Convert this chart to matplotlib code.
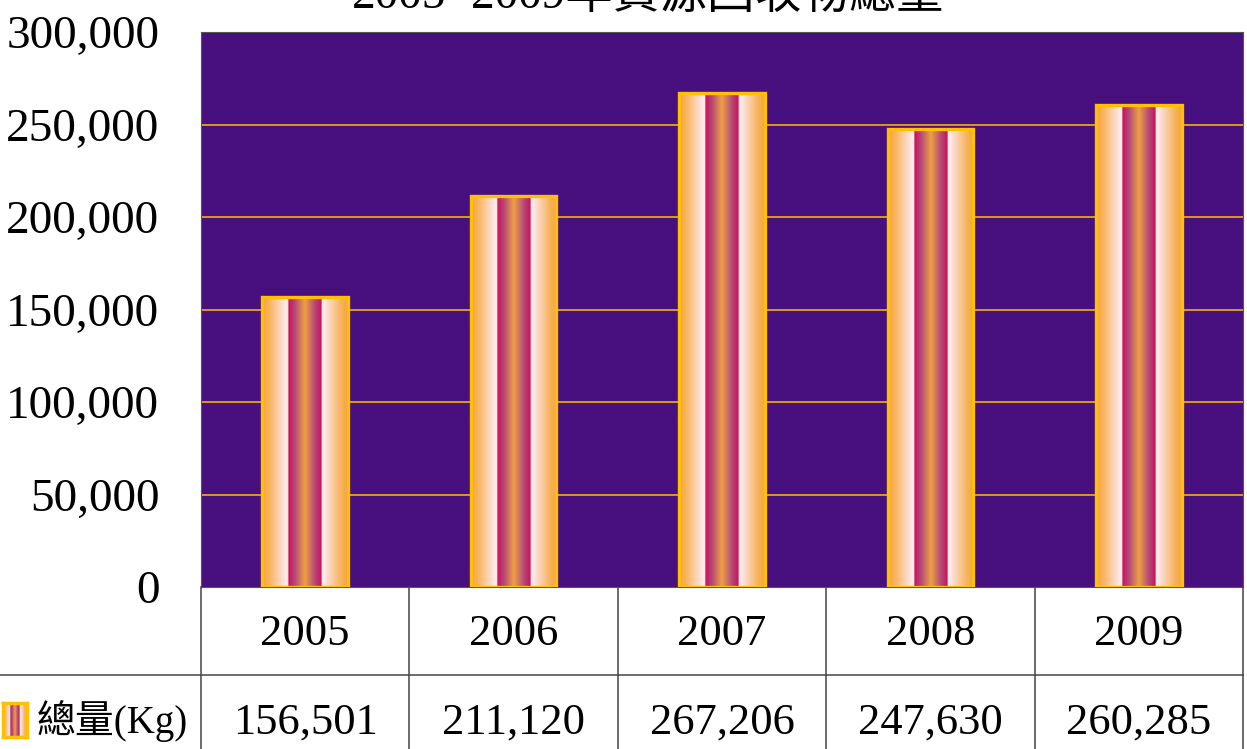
import numpy as np
from matplotlib import pyplot as plt
from matplotlib.colors import LinearSegmentedColormap

plt.rcParams['font.family'] = ['Liberation Serif', 'Noto Sans CJK TC', 'DejaVu Sans']

# data
years = ['2005', '2006', '2007', '2008', '2009']
totals = [156501, 211120, 267206, 247630, 260285]
series_name = '總量(Kg)'
title = '2005~2009年資源回收物總量'
yticks = [0, 50000, 100000, 150000, 200000, 250000, 300000]

W, H = 1247, 749
fig = plt.figure(figsize=(W / 100, H / 100), dpi=100)

# plot area in pixels
left, right, top, bottom = 201, 1243, 32, 587
ax = fig.add_axes([left / W, 1 - bottom / H, (right - left) / W, (bottom - top) / H])
ax.set_facecolor('#47107e')

# bar gradient (horizontal)
bar_cmap = LinearSegmentedColormap.from_list('bar', [
    (0.00, '#f6a53c'), (0.08, '#f8b35c'), (0.24, '#fddcd2'), (0.30, '#fff4f4'),
    (0.31, '#cc1458'), (0.38, '#b4467a'), (0.50, '#eea044'), (0.62, '#b4467a'),
    (0.69, '#cc1458'), (0.70, '#fff4f4'), (0.76, '#fddcd2'), (0.92, '#f8b35c'),
    (1.00, '#f6a53c')])
grad = np.linspace(0, 1, 256).reshape(1, -1)

x = np.arange(len(years))
bars = ax.bar(x, totals, width=0.41, color='none', edgecolor='#ffc000', linewidth=2.4, zorder=4)
for b in bars:
    im = ax.imshow(grad, cmap=bar_cmap, aspect='auto', interpolation='bilinear',
                   extent=[b.get_x(), b.get_x() + b.get_width(), 0, b.get_height()], zorder=3)
    im.set_clip_path(b)

ax.set_xlim(-0.5, len(years) - 0.5)
ax.set_ylim(0, 300000)
ax.set_yticks(yticks)
ax.set_yticklabels([f'{v:,}' for v in yticks], fontsize=34)
ax.tick_params(axis='y', length=0, pad=30)
ax.set_xticks([])
for y in yticks[1:-1]:
    ax.axhline(y, color='#ffc000', linewidth=1.1, zorder=2)
for s in ax.spines.values():
    s.set_color('#555555')
    s.set_linewidth(0.8)

# data table drawn under the plot
line_kw = dict(color='#444444', linewidth=1.1)
row_mid = 675
col_w = (right - left) / len(years)


def fx(px):
    return px / W


def fy(py):
    return 1 - py / H


fig.add_artist(plt.Line2D([fx(0), fx(right)], [fy(row_mid), fy(row_mid)], **line_kw))
for k in range(len(years) + 1):
    xx = left + k * col_w
    fig.add_artist(plt.Line2D([fx(xx), fx(xx)], [fy(bottom), fy(H)], **line_kw))

for i, (yr, v) in enumerate(zip(years, totals)):
    cx = left + (i + 0.5) * col_w
    fig.text(fx(cx), fy(634), yr, fontsize=32, ha='center', va='center')
    fig.text(fx(cx), fy(723), f'{v:,}', fontsize=32, ha='center', va='center')

# legend key + series name
fig.text(fx(37), fy(721), series_name, fontsize=28, ha='left', va='center')
kax = fig.add_axes([fx(3), fy(737), fx(24), (737 - 703) / H])
kax.imshow(grad, cmap=bar_cmap, aspect='auto', extent=[0, 1, 0, 1])
kax.set_xticks([])
kax.set_yticks([])
for s in kax.spines.values():
    s.set_color('#ffc000')
    s.set_linewidth(2.5)

fig.text(fx(648), fy(8), title, fontsize=34, ha='center', va='baseline')

plt.savefig('out.png', dpi=100)
